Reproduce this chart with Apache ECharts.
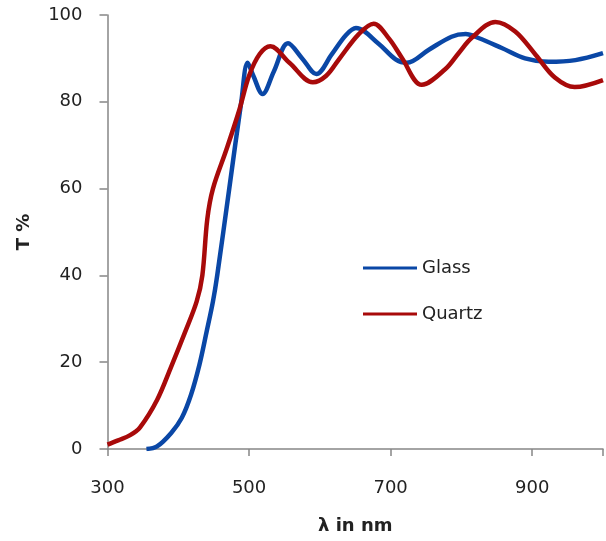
<!DOCTYPE html>
<html>
<head>
<meta charset="utf-8">
<script src="https://cdn.jsdelivr.net/npm/echarts@6/dist/echarts.min.js"></script>
<style>
html,body{margin:0;padding:0;background:#fff;}
#chart{width:606px;height:541px;}
</style>
</head>
<body>
<div id="chart"></div>
<script>
var glassX = [355,370,390,405,418,430,440,449,455,472,489,498,506,519,535,555,575,595,617,637,651,683,707,723,754,786,806,824,857,890,923,961,1000];
var glassT = [0,0.6,3.7,7.2,12.5,19.5,27,34,40,60,80,89,86,81.8,87,93.5,90,86.4,91,95.4,97,93.4,89.8,89,92,95,95.6,94.7,92.4,90,89.2,89.6,91.2];
var quartzX = [300,315,332,346,370,390,409,426,434,441,449,468,486,500,515,530,557,590,609,627,655,676,698,716,744,777,796,815,848,876,905,932,960,1000];
var quartzT = [1,2,3.2,5,11.3,19,26.7,34,40,53,60,69,78,86,91,92.8,89,84.5,86,89.8,95.6,98,94.5,90.1,83.9,87.5,91.2,94.8,98.4,96.2,90.8,85.6,83.4,85];
var xTicks = [300,500,700,900];
var yTicks = [0,20,40,60,80,100];

function zip(a,b){return a.map(function(v,i){return [v,b[i]];});}

var chart = echarts.init(document.getElementById('chart'), null, {renderer:'canvas'});
var font = 'DejaVu Sans';
chart.setOption({
  animation:false,
  backgroundColor:'#fff',
  grid:{left:107.5,right:2,top:15,bottom:92,containLabel:false},
  legend:{
    orient:'vertical', left:358, top:253,
    itemWidth:54, itemHeight:3, itemGap:26, icon:'rect',
    textStyle:{fontFamily:font,fontSize:18,color:'#222',lineHeight:20},
    data:['Glass','Quartz']
  },
  xAxis:{
    type:'value', min:300, max:1000, interval:200,
    name:'λ in nm', nameLocation:'middle', nameGap:68,
    nameTextStyle:{fontFamily:font,fontSize:18,fontWeight:'bold',color:'#222'},
    axisLine:{show:true,lineStyle:{color:'#868686',width:1.5}},
    axisTick:{show:true,inside:false,length:7,lineStyle:{color:'#868686',width:1.5}},
    axisLabel:{margin:30,fontFamily:font,fontSize:18,color:'#222',
      formatter:function(v){return xTicks.indexOf(v)>=0?String(v):'';}},
    splitLine:{show:false}
  },
  yAxis:{
    type:'value', min:0, max:100, interval:20,
    name:'T %', nameLocation:'middle', nameGap:74,
    nameTextStyle:{fontFamily:font,fontSize:18,fontWeight:'bold',color:'#222'},
    axisLine:{show:true,lineStyle:{color:'#868686',width:1.5}},
    axisTick:{show:true,inside:false,length:8,lineStyle:{color:'#868686',width:1.5}},
    axisLabel:{margin:25,fontFamily:font,fontSize:18,color:'#222',
      formatter:function(v){return yTicks.indexOf(v)>=0?String(v):'';}},
    splitLine:{show:false}
  },
  series:[
    {name:'Glass',type:'line',data:zip(glassX,glassT),smooth:0.35,showSymbol:false,
      lineStyle:{color:'#0a47a6',width:4.5},itemStyle:{color:'#0a47a6'},z:2},
    {name:'Quartz',type:'line',data:zip(quartzX,quartzT),smooth:0.35,showSymbol:false,
      lineStyle:{color:'#a80a0a',width:4.5},itemStyle:{color:'#a80a0a'},z:3}
  ]
});
</script>
</body>
</html>
